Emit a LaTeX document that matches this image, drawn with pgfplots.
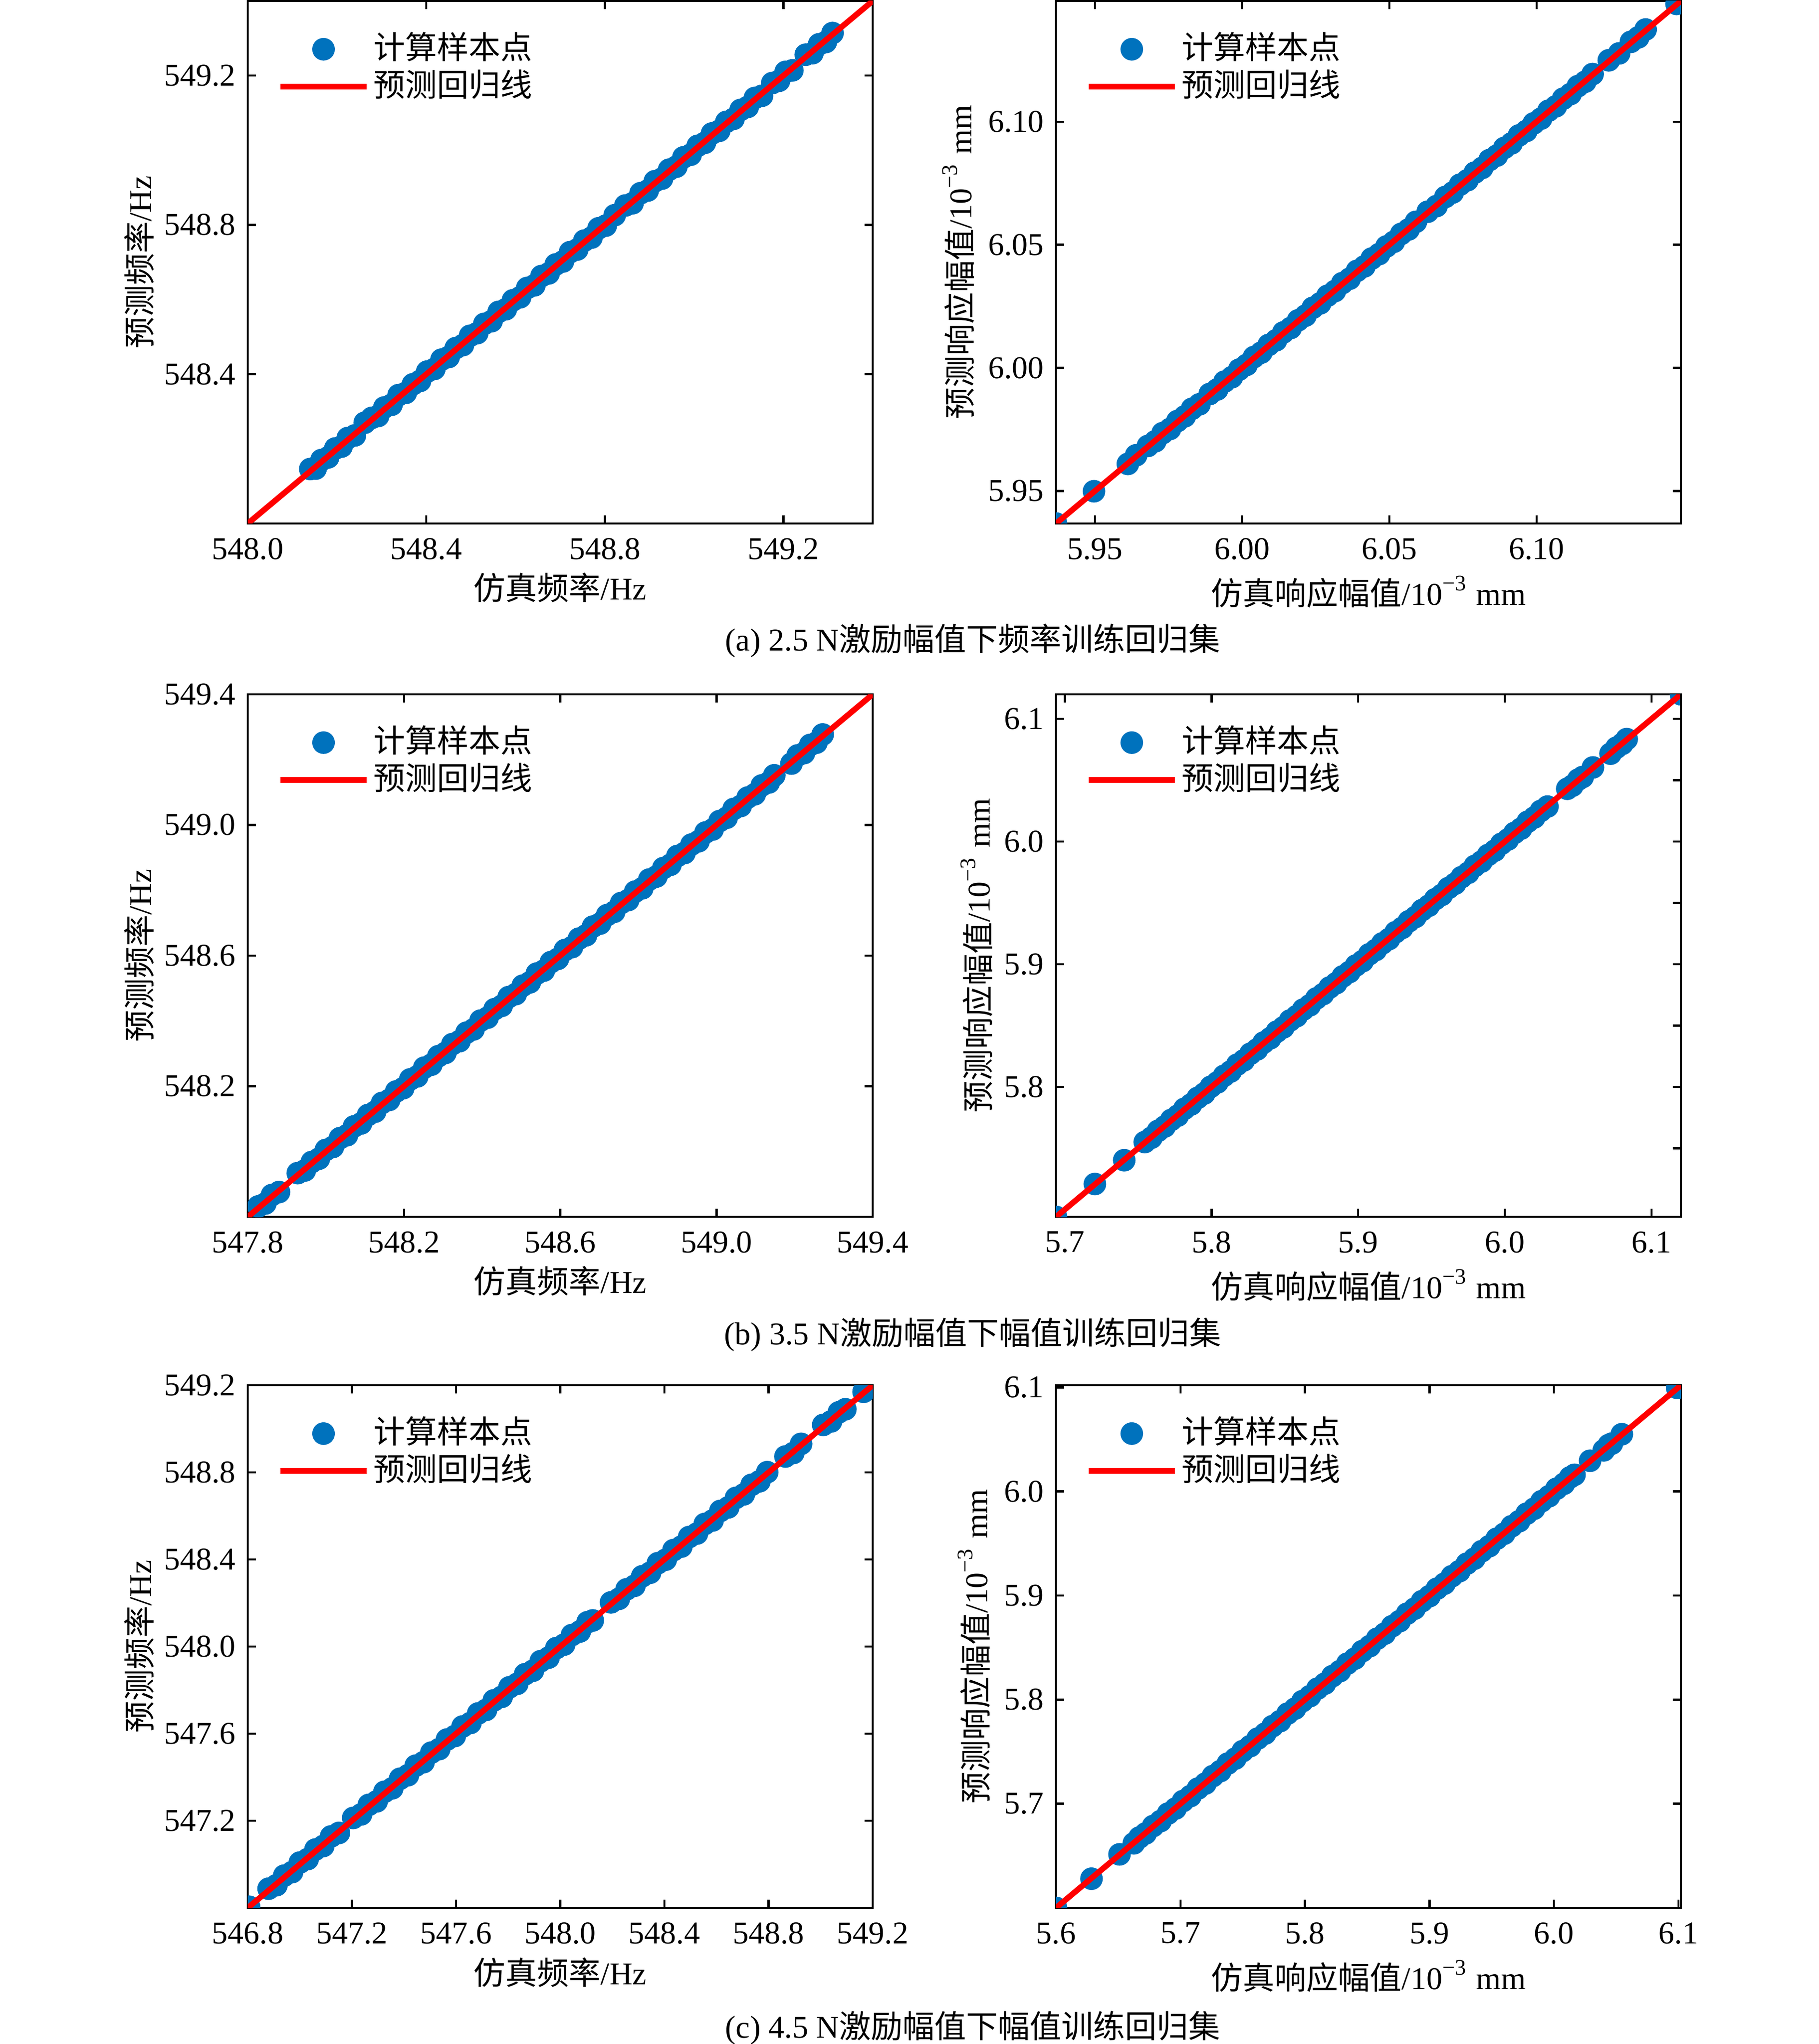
\documentclass[border=0pt]{standalone}
\usepackage{pgfplots}
\pgfplotsset{compat=1.18}
\usepackage{pgfplotstable}
\usepackage{fontspec}
\setmainfont{Liberation Serif}
\newfontfamily\cjk{Noto Sans CJK SC}
\definecolor{dotblue}{RGB}{0,114,189}
\newcommand{\fs}{\fontsize{6.6}{7.9}\selectfont}

\pgfplotstableread{
x y
548.140 548.146
548.152 548.147
548.165 548.170
548.180 548.177
548.196 548.201
548.210 548.206
548.224 548.229
548.240 548.236
548.262 548.270
548.278 548.283
548.292 548.288
548.306 548.311
548.322 548.318
548.338 548.344
548.354 548.350
548.370 548.373
548.386 548.382
548.402 548.407
548.418 548.414
548.434 548.439
548.450 548.446
548.466 548.470
548.482 548.478
548.498 548.503
548.514 548.510
548.530 548.535
548.546 548.542
548.562 548.567
548.578 548.574
548.594 548.598
548.610 548.606
548.626 548.631
548.642 548.638
548.658 548.663
548.674 548.670
548.690 548.694
548.706 548.702
548.722 548.727
548.738 548.734
548.754 548.758
548.770 548.766
548.786 548.791
548.802 548.798
548.822 548.826
548.846 548.852
548.862 548.858
548.880 548.885
548.896 548.892
548.912 548.917
548.928 548.924
548.944 548.948
548.960 548.956
548.976 548.981
548.992 548.988
549.008 549.012
549.024 549.020
549.040 549.045
549.056 549.052
549.072 549.076
549.088 549.084
549.104 549.108
549.120 549.116
549.136 549.140
549.152 549.146
549.175 549.180
549.190 549.186
549.205 549.210
549.220 549.214
549.250 549.256
549.265 549.260
549.280 549.284
549.295 549.290
549.310 549.314
}\tabAL

\pgfplotstableread{
x y
5.9368 5.9368
5.9497 5.9499
5.9612 5.9610
5.9640 5.9645
5.9680 5.9683
5.9705 5.9702
5.9730 5.9735
5.9755 5.9752
5.9780 5.9784
5.9805 5.9803
5.9830 5.9834
5.9855 5.9852
5.9890 5.9894
5.9915 5.9912
5.9940 5.9944
5.9965 5.9962
5.9990 5.9993
6.0015 6.0012
6.0040 6.0044
6.0065 6.0062
6.0090 6.0093
6.0115 6.0112
6.0140 6.0144
6.0165 6.0162
6.0190 6.0193
6.0215 6.0212
6.0240 6.0244
6.0265 6.0262
6.0290 6.0293
6.0315 6.0312
6.0340 6.0344
6.0365 6.0362
6.0390 6.0394
6.0415 6.0412
6.0440 6.0444
6.0465 6.0462
6.0490 6.0493
6.0515 6.0512
6.0540 6.0544
6.0565 6.0562
6.0590 6.0593
6.0630 6.0634
6.0660 6.0657
6.0690 6.0694
6.0715 6.0712
6.0740 6.0744
6.0765 6.0762
6.0790 6.0793
6.0815 6.0812
6.0840 6.0844
6.0865 6.0862
6.0890 6.0893
6.0915 6.0912
6.0940 6.0944
6.0965 6.0962
6.0990 6.0993
6.1015 6.1012
6.1040 6.1044
6.1065 6.1062
6.1090 6.1093
6.1115 6.1112
6.1140 6.1144
6.1165 6.1162
6.1190 6.1193
6.1245 6.1249
6.1280 6.1277
6.1320 6.1324
6.1345 6.1342
6.1370 6.1374
6.1475 6.1478
}\tabAR

\pgfplotstableread{
x y
547.827 547.832
547.845 547.841
547.862 547.867
547.880 547.876
547.928 547.934
547.946 547.942
547.964 547.968
547.982 547.978
548.000 548.005
548.018 548.014
548.036 548.041
548.054 548.050
548.072 548.077
548.090 548.086
548.108 548.112
548.126 548.122
548.144 548.149
548.162 548.158
548.180 548.184
548.198 548.194
548.216 548.221
548.234 548.230
548.252 548.257
548.270 548.266
548.288 548.292
548.306 548.302
548.324 548.329
548.342 548.338
548.360 548.364
548.378 548.374
548.396 548.401
548.414 548.410
548.432 548.436
548.450 548.446
548.468 548.473
548.486 548.482
548.504 548.508
548.522 548.518
548.540 548.545
548.558 548.554
548.576 548.580
548.594 548.590
548.612 548.617
548.630 548.626
548.648 548.652
548.666 548.662
548.684 548.689
548.702 548.698
548.720 548.724
548.738 548.734
548.756 548.761
548.774 548.770
548.792 548.796
548.810 548.806
548.828 548.833
548.846 548.842
548.864 548.868
548.882 548.878
548.900 548.905
548.918 548.914
548.936 548.940
548.954 548.950
548.972 548.977
548.990 548.986
549.008 549.012
549.026 549.022
549.044 549.049
549.062 549.058
549.080 549.084
549.098 549.094
549.116 549.121
549.134 549.130
549.148 549.152
549.192 549.188
549.208 549.213
549.224 549.220
549.240 549.245
549.256 549.252
549.272 549.277
}\tabBL

\pgfplotstableread{
x y
5.6940 5.6940
5.7205 5.7208
5.7405 5.7402
5.7545 5.7550
5.7590 5.7585
5.7635 5.7641
5.7680 5.7676
5.7725 5.7730
5.7770 5.7765
5.7815 5.7821
5.7860 5.7856
5.7905 5.7910
5.7950 5.7945
5.7995 5.8001
5.8040 5.8036
5.8085 5.8090
5.8130 5.8125
5.8175 5.8181
5.8220 5.8216
5.8265 5.8270
5.8310 5.8305
5.8355 5.8361
5.8400 5.8396
5.8445 5.8450
5.8490 5.8485
5.8535 5.8541
5.8580 5.8576
5.8625 5.8630
5.8670 5.8665
5.8715 5.8721
5.8760 5.8756
5.8805 5.8810
5.8850 5.8845
5.8895 5.8901
5.8940 5.8936
5.8985 5.8990
5.9030 5.9025
5.9075 5.9081
5.9120 5.9116
5.9165 5.9170
5.9210 5.9205
5.9255 5.9261
5.9300 5.9296
5.9345 5.9350
5.9390 5.9385
5.9435 5.9441
5.9480 5.9476
5.9525 5.9530
5.9570 5.9565
5.9615 5.9621
5.9660 5.9656
5.9705 5.9710
5.9750 5.9745
5.9795 5.9801
5.9840 5.9836
5.9885 5.9890
5.9930 5.9925
5.9975 5.9981
6.0020 6.0016
6.0065 6.0070
6.0110 6.0105
6.0155 6.0161
6.0200 6.0196
6.0245 6.0250
6.0290 6.0285
6.0425 6.0430
6.0460 6.0455
6.0500 6.0505
6.0530 6.0526
6.0600 6.0604
6.0720 6.0716
6.0760 6.0765
6.0800 6.0796
6.0830 6.0835
6.1200 6.1200
}\tabBR

\pgfplotstableread{
x y
546.805 546.805
546.880 546.888
546.910 546.904
546.940 546.948
546.970 546.964
547.000 547.008
547.030 547.024
547.060 547.068
547.090 547.084
547.120 547.128
547.150 547.144
547.205 547.213
547.235 547.229
547.265 547.273
547.295 547.289
547.325 547.333
547.355 547.349
547.385 547.393
547.415 547.409
547.445 547.453
547.475 547.469
547.505 547.513
547.535 547.529
547.565 547.573
547.595 547.589
547.625 547.633
547.655 547.649
547.685 547.693
547.715 547.709
547.745 547.753
547.775 547.769
547.805 547.813
547.835 547.829
547.865 547.873
547.895 547.889
547.925 547.933
547.955 547.949
547.985 547.993
548.015 548.009
548.045 548.053
548.075 548.069
548.105 548.112
548.125 548.120
548.195 548.203
548.225 548.219
548.255 548.263
548.285 548.279
548.315 548.323
548.345 548.339
548.375 548.383
548.405 548.399
548.435 548.443
548.465 548.459
548.495 548.503
548.525 548.519
548.555 548.563
548.585 548.579
548.615 548.623
548.645 548.639
548.675 548.683
548.705 548.699
548.735 548.743
548.765 548.759
548.795 548.801
548.865 548.873
548.895 548.889
548.925 548.931
549.010 549.018
549.040 549.034
549.070 549.076
549.095 549.090
549.165 549.170
}\tabCL

\pgfplotstableread{
x y
5.6000 5.6000
5.6285 5.6280
5.6510 5.6514
5.6625 5.6620
5.6670 5.6676
5.6720 5.6715
5.6780 5.6786
5.6840 5.6834
5.6900 5.6906
5.6960 5.6954
5.7020 5.7026
5.7080 5.7074
5.7140 5.7146
5.7200 5.7194
5.7260 5.7266
5.7320 5.7314
5.7380 5.7386
5.7440 5.7434
5.7500 5.7506
5.7560 5.7554
5.7620 5.7626
5.7680 5.7674
5.7740 5.7746
5.7800 5.7794
5.7860 5.7866
5.7920 5.7914
5.7980 5.7986
5.8040 5.8034
5.8100 5.8106
5.8160 5.8154
5.8220 5.8226
5.8280 5.8274
5.8340 5.8346
5.8400 5.8394
5.8460 5.8466
5.8520 5.8514
5.8580 5.8586
5.8640 5.8634
5.8700 5.8706
5.8760 5.8754
5.8820 5.8826
5.8880 5.8874
5.8940 5.8946
5.9000 5.8994
5.9060 5.9066
5.9120 5.9114
5.9180 5.9186
5.9240 5.9234
5.9300 5.9306
5.9360 5.9354
5.9420 5.9426
5.9480 5.9474
5.9540 5.9546
5.9600 5.9594
5.9660 5.9666
5.9720 5.9714
5.9780 5.9786
5.9840 5.9834
5.9900 5.9906
5.9960 5.9954
6.0020 6.0026
6.0080 6.0074
6.0130 6.0136
6.0165 6.0160
6.0290 6.0295
6.0400 6.0395
6.0440 6.0446
6.0465 6.0460
6.0545 6.0550
6.0990 6.0995
}\tabCR

\pgfplotsset{
  panel/.style={
    scale only axis, width=129.9pt, height=108.6pt, anchor=north west,
    axis line style={line width=0.45pt},
    tick align=inside, major tick length=1.7pt,
    every tick/.style={black, line width=0.45pt},
    tick label style={font=\fs},
    yticklabel style={xshift=1pt},
    xticklabel style={yshift=0.5pt},
    label style={font=\fs},
    /pgf/number format/assume math mode=true,
    clip marker paths=true,
    legend style={draw=none, fill=none, font=\fs,
      at={(axis description cs:0,1)}, anchor=north west,
      xshift=6pt, yshift=-5.5pt, inner sep=0pt, row sep=-0.9pt,
      nodes={inner sep=0.8pt}},
    legend cell align=left,
    legend image code/.code={\draw[mark repeat=2,mark phase=2,##1] plot coordinates {(0pt,0pt) (8.95pt,0pt) (17.9pt,0pt)};},
  },
  leftp/.style={
    xlabel style={at={(axis description cs:0.5,-0.1464)}, anchor=base},
    ylabel style={at={(axis description cs:-0.1547,0.5)}, anchor=base},
  },
  rightp/.style={
    xlabel style={at={(axis description cs:0.5,-0.156)}, anchor=base},
    ylabel style={at={(axis description cs:#1,0.5)}, anchor=base},
  },
  pts/.style={only marks, mark=*, mark size=2.15pt, color=dotblue, mark options={draw=none, fill=dotblue}},
  fitl/.style={red, line width=1.2pt, no marks},
}

\begin{document}
\begin{tikzpicture}
\useasboundingbox (0,0) rectangle (378pt,-424.8pt);

% ---- (a) left
\begin{axis}[panel, leftp, at={(51.5pt,-0.2pt)},
  xmin=548.0, xmax=549.4, ymin=548.0, ymax=549.4,
  xtick={548.0,548.4,548.8,549.2}, xticklabels={548.0,548.4,548.8,549.2},
  ytick={548.4,548.8,549.2}, yticklabels={548.4,548.8,549.2},
  xlabel={{\cjk 仿真频率}/Hz}, ylabel={{\cjk 预测频率}/Hz}]
\addplot[pts] table {\tabAL};
\addlegendentry{{\cjk 计算样本点}}
\addplot[fitl] coordinates {(548.0,548.0) (549.4,549.4)};
\addlegendentry{{\cjk 预测回归线}}
\end{axis}

% ---- (a) right
\begin{axis}[panel, rightp=-0.1349, at={(219.5pt,-0.2pt)},
  xmin=5.9368, xmax=6.149, ymin=5.9368, ymax=6.149,
  xtick={5.95,6.00,6.05,6.10}, xticklabels={5.95,6.00,6.05,6.10},
  ytick={5.95,6.00,6.05,6.10}, yticklabels={5.95,6.00,6.05,6.10},
  xlabel={{\cjk 仿真响应幅值}/10\textsuperscript{−3} mm}, ylabel={{\cjk 预测响应幅值}/10\textsuperscript{−3} mm}]
\addplot[pts] table {\tabAR};
\addlegendentry{{\cjk 计算样本点}}
\addplot[fitl] coordinates {(5.9368,5.9368) (6.149,6.149)};
\addlegendentry{{\cjk 预测回归线}}
\end{axis}

\node[font=\fs] at (202.2pt,-133.2pt) {(a) 2.5 N{\cjk 激励幅值下频率训练回归集}};

% ---- (b) left
\begin{axis}[panel, leftp, at={(51.5pt,-144.3pt)},
  xmin=547.8, xmax=549.4, ymin=547.8, ymax=549.4,
  xtick={547.8,548.2,548.6,549.0,549.4}, xticklabels={547.8,548.2,548.6,549.0,549.4},
  ytick={548.2,548.6,549.0,549.4}, yticklabels={548.2,548.6,549.0,549.4},
  xlabel={{\cjk 仿真频率}/Hz}, ylabel={{\cjk 预测频率}/Hz}]
\addplot[pts] table {\tabBL};
\addlegendentry{{\cjk 计算样本点}}
\addplot[fitl] coordinates {(547.8,547.8) (549.4,549.4)};
\addlegendentry{{\cjk 预测回归线}}
\end{axis}

% ---- (b) right
\begin{axis}[panel, rightp=-0.106, at={(219.5pt,-144.3pt)},
  xmin=5.694, xmax=6.120, ymin=5.694, ymax=6.120,
  xtick={5.7,5.8,5.9,6.0,6.1}, xticklabels={5.7,5.8,5.9,6.0,6.1},
  ytick={5.8,5.9,6.0,6.1}, yticklabels={5.8,5.9,6.0,6.1},
  xlabel={{\cjk 仿真响应幅值}/10\textsuperscript{−3} mm}, ylabel={{\cjk 预测响应幅值}/10\textsuperscript{−3} mm}]
\addplot[pts] table {\tabBR};
\addlegendentry{{\cjk 计算样本点}}
\addplot[fitl] coordinates {(5.694,5.694) (6.120,6.120)};
\addlegendentry{{\cjk 预测回归线}}
\end{axis}
\begin{axis}[panel, at={(219.5pt,-144.3pt)},
  xmin=5.694, xmax=6.120, ymin=5.694, ymax=6.120,
  axis x line=none, axis y line*=right,
  ytick={5.75,5.85,5.95,6.05}, yticklabels={}]
\addplot[draw=none] coordinates {(5.8,5.8)};
\end{axis}

\node[font=\fs] at (202.2pt,-277.4pt) {(b) 3.5 N{\cjk 激励幅值下幅值训练回归集}};

% ---- (c) left
\begin{axis}[panel, leftp, at={(51.5pt,-287.9pt)},
  xmin=546.8, xmax=549.2, ymin=546.8, ymax=549.2,
  xtick={546.8,547.2,547.6,548.0,548.4,548.8,549.2}, xticklabels={546.8,547.2,547.6,548.0,548.4,548.8,549.2},
  ytick={547.2,547.6,548.0,548.4,548.8,549.2}, yticklabels={547.2,547.6,548.0,548.4,548.8,549.2},
  xlabel={{\cjk 仿真频率}/Hz}, ylabel={{\cjk 预测频率}/Hz}]
\addplot[pts] table {\tabCL};
\addlegendentry{{\cjk 计算样本点}}
\addplot[fitl] coordinates {(546.8,546.8) (549.2,549.2)};
\addlegendentry{{\cjk 预测回归线}}
\end{axis}

% ---- (c) right
\begin{axis}[panel, rightp=-0.11, at={(219.5pt,-287.9pt)},
  xmin=5.6, xmax=6.102, ymin=5.6, ymax=6.102,
  xtick={5.6,5.7,5.8,5.9,6.0,6.1}, xticklabels={5.6,5.7,5.8,5.9,6.0,6.1},
  ytick={5.7,5.8,5.9,6.0,6.1}, yticklabels={5.7,5.8,5.9,6.0,6.1},
  xlabel={{\cjk 仿真响应幅值}/10\textsuperscript{−3} mm}, ylabel={{\cjk 预测响应幅值}/10\textsuperscript{−3} mm}]
\addplot[pts] table {\tabCR};
\addlegendentry{{\cjk 计算样本点}}
\addplot[fitl] coordinates {(5.6,5.6) (6.102,6.102)};
\addlegendentry{{\cjk 预测回归线}}
\end{axis}

\node[font=\fs] at (202.2pt,-421.5pt) {(c) 4.5 N{\cjk 激励幅值下幅值训练回归集}};
\end{tikzpicture}
\end{document}
